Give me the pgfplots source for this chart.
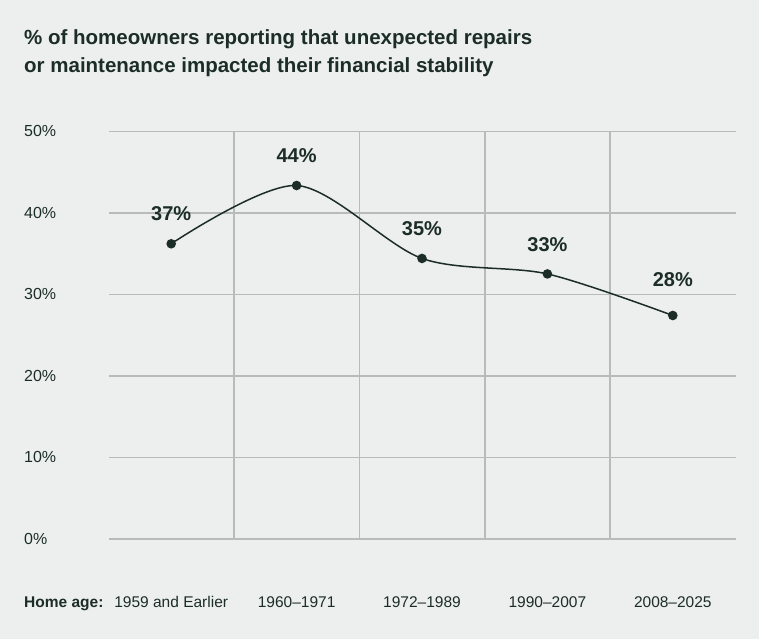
\documentclass[border=0pt]{standalone}
\usepackage{pgfplots}
\pgfplotsset{compat=1.18}
\usepackage{fontspec}
\setmainfont{Liberation Sans}
\definecolor{bg}{HTML}{ECEFED}
\definecolor{ink}{HTML}{1C2D27}
\definecolor{gridc}{HTML}{B8BBB8}
\begin{document}
\begin{tikzpicture}
\fill[bg] (0pt,0pt) rectangle (759pt,-639pt);
\node[anchor=base west, inner sep=0pt, font=\fontsize{20.5}{24}\selectfont\bfseries, text=ink] at (24pt,-44.3pt) {\% of homeowners reporting that unexpected repairs};
\node[anchor=base west, inner sep=0pt, font=\fontsize{20.5}{24}\selectfont\bfseries, text=ink] at (24pt,-72.7pt) {or maintenance impacted their financial stability};
\node[anchor=base west, inner sep=0pt, font=\fontsize{15.5}{18}\selectfont\bfseries, text=ink] at (24pt,-607.5pt) {Home age:};
\begin{axis}[
  at={(108.5pt,-538.8pt)}, anchor=south west,
  scale only axis, width=627pt, height=407.5pt,
  xmin=-0.5, xmax=4.5, ymin=0, ymax=50,
  clip=false,
  axis line style={draw=none},
  xtick={0,1,2,3,4},
  xticklabels={1959 and Earlier,1960--1971,1972--1989,1990--2007,2008--2025},
  minor xtick={0.5,1.5,2.5,3.5},
  ytick={0,10,20,30,40,50},
  yticklabels={0\%,10\%,20\%,30\%,40\%,50\%},
  major tick length=0pt, minor tick length=0pt,
  tick style={draw=none},
  ymajorgrids, xminorgrids, xmajorgrids=false,
  grid style={gridc, line width=1.6pt},
  minor grid style={gridc, line width=1.6pt},
  yticklabel style={anchor=west, inner sep=0pt, xshift=-84.5pt, font=\fontsize{16}{19}\selectfont, text=ink},
  xticklabel style={anchor=base, inner sep=0pt, yshift=-68.7pt, font=\fontsize{15.5}{18}\selectfont, text=ink},
]
\addplot[ink, line width=1.5pt, smooth, mark=*, mark size=4pt, mark options={fill=ink, draw=ink}]
  coordinates {(0,36.2) (1,43.35) (2,34.4) (3,32.5) (4,27.4)};
\node[font=\fontsize{20}{24}\selectfont\bfseries, text=ink, yshift=30.3pt] at (axis cs:0,36.2) {37\%};
\node[font=\fontsize{20}{24}\selectfont\bfseries, text=ink, yshift=30pt] at (axis cs:1,43.35) {44\%};
\node[font=\fontsize{20}{24}\selectfont\bfseries, text=ink, yshift=29.7pt] at (axis cs:2,34.4) {35\%};
\node[font=\fontsize{20}{24}\selectfont\bfseries, text=ink, yshift=29.7pt] at (axis cs:3,32.5) {33\%};
\node[font=\fontsize{20}{24}\selectfont\bfseries, text=ink, yshift=35.7pt] at (axis cs:4,27.4) {28\%};
\end{axis}
\end{tikzpicture}
\end{document}
